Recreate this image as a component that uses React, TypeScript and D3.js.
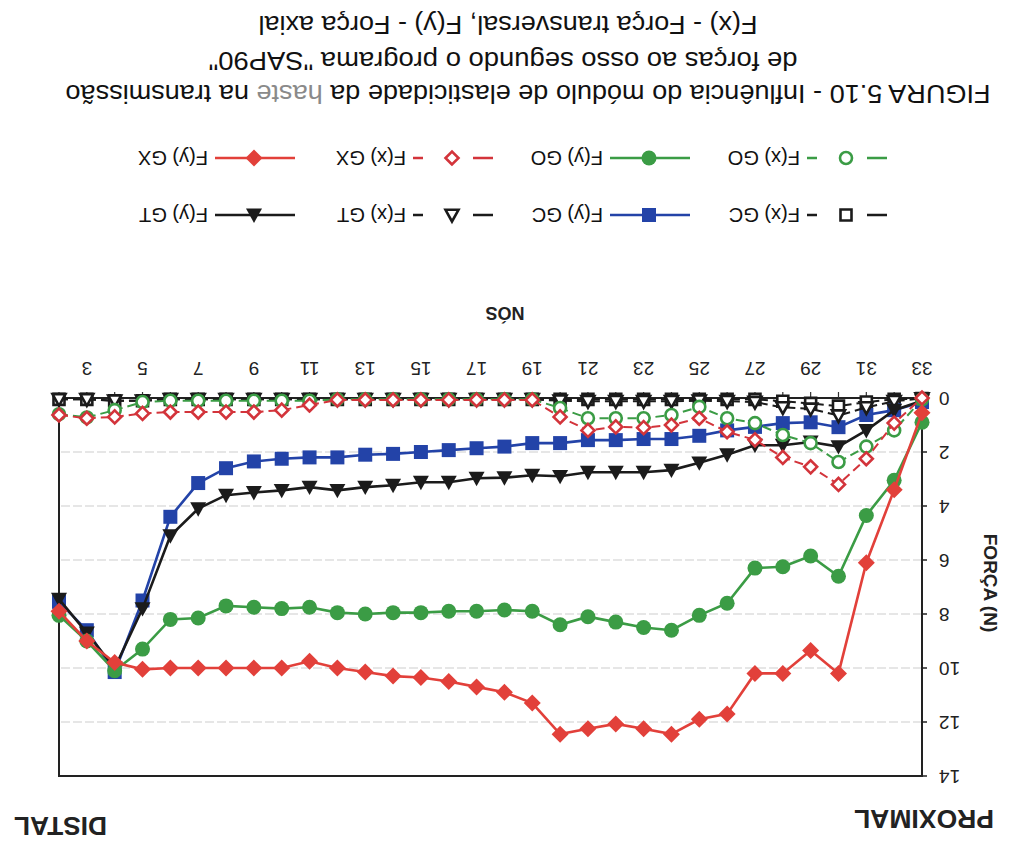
import React from "react";
import * as d3 from "d3";

// node numbers along the stem (category axis)
const nodes = [2, 3, 4, 5, 6, 7, 8, 9, 10, 11, 12, 13, 14, 15, 16, 17, 18, 19, 20, 21, 22, 23, 24, 25, 26, 27, 28, 29, 30, 31, 32, 33];
const nodeLabels = [3, 5, 7, 9, 11, 13, 15, 17, 19, 21, 23, 25, 27, 29, 31, 33];
const forceTicks = [0, 2, 4, 6, 8, 10, 12, 14];
const gridTicks = [2, 4, 6, 8, 10, 12];

// forces (N), nodes 2..33
const fxGC = [0.05, 0.05, 0.1, 0.1, 0.05, 0.05, 0.05, 0.05, 0.05, 0.05, 0.05, 0.05, 0.05, 0.05, 0.05, 0.05, 0.05, 0.05, 0.05, 0.05, 0.05, 0.05, 0.05, 0.05, 0.05, 0.05, 0.12, 0.2, 0.3, 0.15, 0.05, 0.02];
const fyGC = [7.55, 8.6, 10.15, 7.5, 4.4, 3.15, 2.6, 2.35, 2.25, 2.2, 2.2, 2.1, 2.07, 2.0, 1.93, 1.86, 1.8, 1.67, 1.67, 1.56, 1.56, 1.52, 1.52, 1.4, 1.2, 1.07, 0.93, 0.9, 1.08, 0.63, 0.45, 0.15];
const fxGT = [0.05, 0.05, 0.1, 0.1, 0.05, 0.05, 0.05, 0.05, 0.05, 0.05, 0.05, 0.05, 0.05, 0.05, 0.05, 0.05, 0.05, 0.05, 0.1, 0.12, 0.12, 0.12, 0.12, 0.1, 0.12, 0.15, 0.35, 0.4, 0.65, 0.35, 0.12, 0.02];
const fyGT = [7.45, 8.7, 10.0, 7.8, 5.1, 4.1, 3.6, 3.5, 3.42, 3.3, 3.42, 3.3, 3.23, 3.12, 3.12, 2.97, 2.95, 2.86, 2.9, 2.75, 2.75, 2.75, 2.67, 2.4, 2.1, 1.75, 1.75, 1.63, 1.8, 1.2, 0.45, 0.1];
const fxGO = [0.6, 0.72, 0.45, 0.15, 0.1, 0.1, 0.1, 0.1, 0.1, 0.1, 0.05, 0.05, 0.05, 0.05, 0.05, 0.05, 0.05, 0.05, 0.37, 0.75, 0.75, 0.75, 0.63, 0.33, 0.75, 0.93, 1.37, 1.67, 2.37, 1.8, 1.2, 0.05];
const fyGO = [8.05, 9.0, 10.1, 9.3, 8.2, 8.15, 7.7, 7.75, 7.8, 7.75, 7.95, 8.0, 7.95, 7.95, 7.9, 7.9, 7.85, 7.9, 8.4, 8.1, 8.3, 8.5, 8.6, 8.05, 7.6, 6.3, 6.25, 5.85, 6.6, 4.35, 3.05, 0.9];
const fxGX = [0.63, 0.75, 0.7, 0.57, 0.52, 0.52, 0.52, 0.52, 0.45, 0.26, 0.07, 0.07, 0.07, 0.07, 0.07, 0.07, 0.07, 0.07, 0.7, 1.2, 1.07, 1.1, 1.0, 0.75, 1.25, 1.55, 2.2, 2.55, 3.2, 2.25, 0.93, 0.0];
const fyGX = [7.9, 9.0, 9.8, 10.05, 10.0, 10.0, 10.0, 10.0, 10.0, 9.75, 10.0, 10.15, 10.3, 10.35, 10.5, 10.7, 10.9, 11.3, 12.45, 12.25, 12.07, 12.25, 12.45, 11.9, 11.7, 10.2, 10.2, 9.35, 10.2, 6.1, 3.4, 0.55];

const RED = "#e2403a";
const RED_DARK = "#d3343b";
const GREEN = "#3b9c45";
const BLUE = "#2343a8";
const BLACK = "#1b1b1b";

const series = [
  { name: "F(x) GC", values: fxGC, color: BLACK, shape: "square", open: true },
  { name: "F(y) GC", values: fyGC, color: BLUE, shape: "square", open: false },
  { name: "F(x) GT", values: fxGT, color: BLACK, shape: "triangle", open: true },
  { name: "F(y) GT", values: fyGT, color: BLACK, shape: "triangle", open: false },
  { name: "F(x) GO", values: fxGO, color: GREEN, shape: "circle", open: true },
  { name: "F(y) GO", values: fyGO, color: GREEN, shape: "circle", open: false },
  { name: "F(x) GX", values: fxGX, color: RED_DARK, shape: "diamond", open: true },
  { name: "F(y) GX", values: fyGX, color: RED, shape: "diamond", open: false },
];

const W = 1009;
const H = 855;
const FONT = "'Liberation Sans', Arial, sans-serif";

function Marker({ shape, open, color, x, y }) {
  const fill = open ? "#fff" : color;
  const sw = open ? 2.6 : 0;
  if (shape === "circle") {
    return <circle cx={x} cy={y} r={open ? 6 : 7.5} fill={fill} stroke={color} strokeWidth={sw} />;
  }
  let d = "";
  if (shape === "square") {
    const s = open ? 5.5 : 7;
    d = `M${-s},${-s}h${2 * s}v${2 * s}h${-2 * s}Z`;
  } else if (shape === "diamond") {
    const s = open ? 6.5 : 8.5;
    d = `M0,${-s}L${s},0L0,${s}L${-s},0Z`;
  } else {
    const s = open ? 6.5 : 8;
    d = `M0,${-s}L${s},${s * 0.8}L${-s},${s * 0.8}Z`;
  }
  return <path d={d} transform={`translate(${x},${y})`} fill={fill} stroke={color} strokeWidth={sw} strokeLinejoin="miter" />;
}

export default function App() {
  const x = d3.scaleLinear().domain([33, 2]).range([87, 950]);
  const y = d3.scaleLinear().domain([0, 14]).range([457, 79]);

  const line = d3
    .line<number>()
    .x((_, i) => x(nodes[i]))
    .y((v) => y(v));

  const legendCols = [122, 319, 516, 714];
  const legendRows = [640, 697];

  return (
    <svg width={W} height={H} style={{ position: "absolute", left: 0, top: 0, background: "#fff" }} fontFamily={FONT}>
      <rect width={W} height={H} fill="#fff" />
      {/* the scanned page is upside down */}
      <g transform={`rotate(180 ${W / 2} ${H / 2})`}>
        <text x={15} y={36} fontSize={25} fontWeight="bold" dominantBaseline="central" fill="#222" textLength={140} lengthAdjust="spacingAndGlyphs">PROXIMAL</text>
        <text x={902} y={29} fontSize={25} fontWeight="bold" dominantBaseline="central" fill="#222" textLength={93} lengthAdjust="spacingAndGlyphs">DISTAL</text>

        {/* grid */}
        {gridTicks.map((t) => (
          <line key={t} x1={x(33)} x2={x(2)} y1={y(t)} y2={y(t)} stroke="#cdcdcd" strokeWidth={1} strokeDasharray="9,3" />
        ))}

        {/* frame */}
        <rect x={x(33)} y={y(14)} width={x(2) - x(33)} height={y(0) - y(14)} fill="none" stroke="#222" strokeWidth={2} />

        {/* value axis */}
        {forceTicks.map((t) => (
          <g key={t}>
            <line x1={x(33) - 5} x2={x(33)} y1={y(t)} y2={y(t)} stroke="#222" strokeWidth={1.5} />
            <text x={70} y={y(t)} fontSize={19} textAnchor="end" dominantBaseline="central" fill="#222">{t}</text>
          </g>
        ))}
        <text transform={`translate(19,272) rotate(-90)`} fontSize={19} fontWeight="bold" textAnchor="middle" dominantBaseline="central" fill="#222">FORÇA (N)</text>

        {/* category axis */}
        {nodes.map((n) => (
          <line key={n} x1={x(n)} x2={x(n)} y1={y(0)} y2={y(0) + 6} stroke="#333" strokeWidth={1.2} />
        ))}
        {nodeLabels.map((n) => (
          <text key={n} x={x(n)} y={487} fontSize={19} textAnchor="middle" dominantBaseline="central" fill="#222">{n}</text>
        ))}
        <text x={504} y={542} fontSize={18} fontWeight="bold" textAnchor="middle" dominantBaseline="central" fill="#222">NÓS</text>

        {/* series */}
        {series.map((s) => (
          <g key={s.name}>
            <path d={line(s.values) || ""} fill="none" stroke={s.color} strokeWidth={s.open ? 2 : 2.6} strokeDasharray={s.open ? "9,5" : undefined} />
            {s.values.map((v, i) => (
              <Marker key={i} shape={s.shape} open={s.open} color={s.color} x={x(nodes[i])} y={y(v)} />
            ))}
          </g>
        ))}

        {/* legend */}
        {series.map((s, i) => {
          const row = i < 4 ? 0 : 1;
          const col = i % 4;
          const x0 = legendCols[col];
          const ly = legendRows[row];
          return (
            <g key={s.name}>
              <line x1={x0} x2={x0 + 80} y1={ly} y2={ly} stroke={s.color} strokeWidth={2.6} strokeDasharray={s.open ? "20,50" : undefined} />
              <Marker shape={s.shape} open={s.open} color={s.color} x={x0 + 41} y={ly} />
              <text x={x0 + 87} y={ly} fontSize={20} dominantBaseline="central" fill="#111">{s.name}</text>
            </g>
          );
        })}

        {/* caption */}
        <text x={481} y={761} fontSize={26.5} textAnchor="middle" dominantBaseline="central" fill="#111" textLength={925} lengthAdjust="spacingAndGlyphs">
          FIGURA 5.10 - Influência do módulo de elasticidade da <tspan fill="#8a8a8a">haste</tspan> na transmissão
        </text>
        <text x={506} y={794} fontSize={26.5} textAnchor="middle" dominantBaseline="central" fill="#111" textLength={589} lengthAdjust="spacingAndGlyphs">
          de forças ao osso segundo o programa "SAP90"
        </text>
        <text x={501} y={830} fontSize={26.5} textAnchor="middle" dominantBaseline="central" fill="#111" textLength={499} lengthAdjust="spacingAndGlyphs">
          F(x) - Força transversal, F(y) - Força axial
        </text>
      </g>
    </svg>
  );
}
